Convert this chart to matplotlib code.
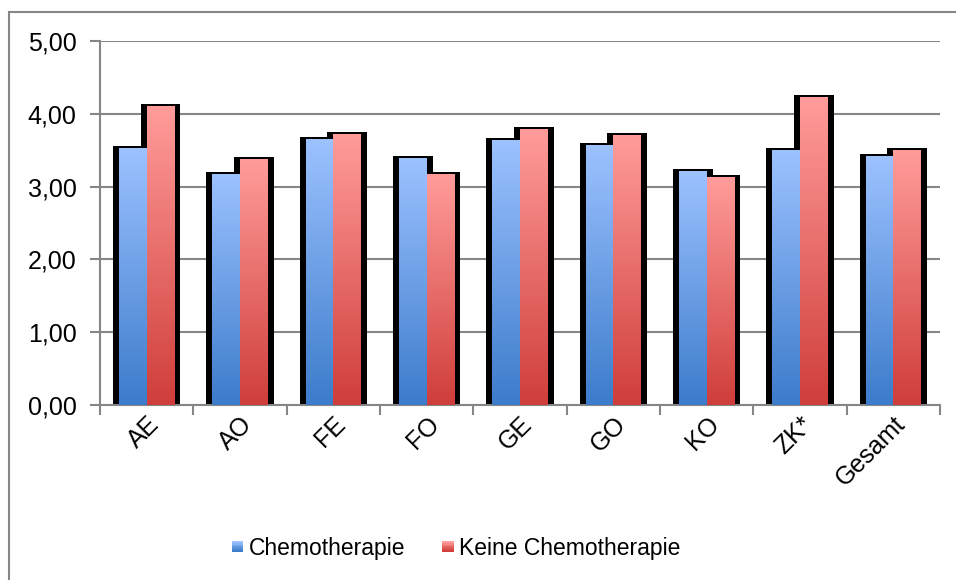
import numpy as np
import matplotlib.pyplot as plt
from matplotlib.patches import Rectangle
from matplotlib.colors import LinearSegmentedColormap
from matplotlib.legend_handler import HandlerBase

plt.rcParams['font.family'] = ['Liberation Sans', 'DejaVu Sans']

# data
categories = ["AE", "AO", "FE", "FO", "GE", "GO", "KO", "ZK*", "Gesamt"]
chemo = [3.52, 3.17, 3.65, 3.39, 3.63, 3.56, 3.21, 3.49, 3.41]
keine_chemo = [4.10, 3.37, 3.72, 3.17, 3.78, 3.70, 3.13, 4.23, 3.50]
series_names = ["Chemotherapie", "Keine Chemotherapie"]
yticks = [0, 1, 2, 3, 4, 5]

blue_cmap = LinearSegmentedColormap.from_list("b", ["#3C7CCB", "#9CC2FF"])
red_cmap = LinearSegmentedColormap.from_list("r", ["#CF3E3A", "#FF9C9A"])
grey = "#868686"

fig = plt.figure(figsize=(9.56, 5.8), dpi=100)
ax = fig.add_axes([100 / 956, 1 - 405 / 580, 840 / 956, 364 / 580])

x = np.arange(len(categories))
w = 0.295
grad = np.linspace(0, 1, 256).reshape(-1, 1)

# black shadow behind every bar first
for vals, off in [(chemo, -w / 2), (keine_chemo, w / 2)]:
    for xi, v in zip(x, vals):
        ax.add_patch(Rectangle((xi + off - w / 2 - 0.065, 0), w + 0.13, v + 0.035,
                               facecolor="black", edgecolor="none", zorder=2))

# gradient filled bars
for vals, off, cm in [(chemo, -w / 2, blue_cmap), (keine_chemo, w / 2, red_cmap)]:
    for xi, v in zip(x, vals):
        ax.imshow(grad, cmap=cm, origin="lower", aspect="auto", zorder=3,
                  extent=(xi + off - w / 2, xi + off + w / 2, 0, v))

ax.set_xlim(-0.5, len(categories) - 0.5)
ax.set_ylim(0, 5)
ax.set_yticks(yticks)
ax.yaxis.set_major_formatter(plt.FuncFormatter(lambda v, p: ("%.2f" % v).replace(".", ",")))
ax.grid(axis="y", color=grey, linewidth=1.5, zorder=0)
ax.set_axisbelow(True)

ax.set_xticks(x)
ax.set_xticklabels(categories, rotation=45, ha="right", rotation_mode="anchor")
ax.set_xticks(np.arange(-0.5, len(categories)), minor=True)
ax.tick_params(axis="x", which="major", length=0, pad=5, labelsize=18)
ax.tick_params(axis="x", which="minor", length=7, width=1.5, color=grey)
ax.tick_params(axis="y", length=7, width=1.5, color=grey, labelsize=18, pad=10)

for s in ["top", "right"]:
    ax.spines[s].set_visible(False)
for s in ["left", "bottom"]:
    ax.spines[s].set_color(grey)
    ax.spines[s].set_linewidth(1.5)


class GradHandler(HandlerBase):
    def __init__(self, cmap):
        super().__init__()
        self.cmap = cmap

    def create_artists(self, legend, orig, xd, yd, width, height, fontsize, trans):
        arts = []
        n = 6
        s = 8
        y0 = yd + (height - s) / 2
        for i in range(n):
            r = Rectangle((xd + width - s, y0 + s * i / n), s, s / n,
                          facecolor=self.cmap(i / (n - 1)), edgecolor="none", transform=trans)
            arts.append(r)
        return arts


h1 = Rectangle((0, 0), 1, 1)
h2 = Rectangle((0, 0), 1, 1)
fig.legend([h1, h2], series_names, loc="center", bbox_to_anchor=(455 / 956, 1 - 548 / 580),
           ncol=2, frameon=False, fontsize=16.5, handlelength=0.6, handletextpad=0.25,
           columnspacing=1.5, handler_map={h1: GradHandler(blue_cmap), h2: GradHandler(red_cmap)})

# outer chart border
fig.add_artist(Rectangle((9 / 956, -0.05), 1.2, 1 - 12 / 580 + 0.05, transform=fig.transFigure,
                         facecolor="none", edgecolor=grey, linewidth=1.5))

fig.savefig("out.png", dpi=100)
